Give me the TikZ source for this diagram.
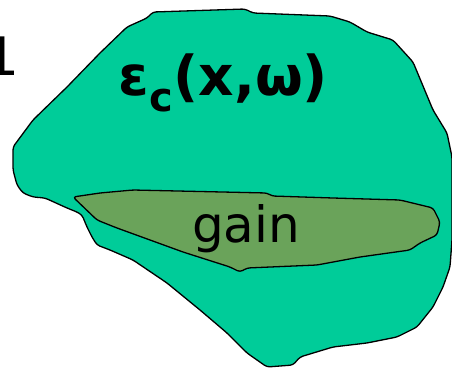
\documentclass[tikz,border=0pt]{standalone}
\usepackage{fontspec}
\setmainfont{DejaVu Sans}
\definecolor{outergreen}{HTML}{00CC99}
\definecolor{gaingreen}{HTML}{6AA35A}
\begin{document}
\begin{tikzpicture}[x=1pt,y=-1pt,
  blob/.style={draw=black,line width=1.3pt,line join=round,rounded corners=3pt}]
\useasboundingbox (0,0) rectangle (452,367);
\clip (0,0) rectangle (452,367);
% outer region
\draw[blob,fill=outergreen] (153,12) -- (245,9) -- (253,13) -- (330,16) -- (350,22) -- (367,32) -- (393,40) -- (413,62)
  -- (433,110) -- (447,133) -- (452,157) -- (452,240) -- (450,267) -- (443,287) -- (433,307) -- (417,327) -- (397,337)
  -- (367,343) -- (333,347) -- (300,357) -- (293,365) -- (267,367) -- (247,353) -- (227,333) -- (200,310)
  -- (167,283) -- (133,260) -- (110,250) -- (97,245) -- (92,237) -- (87,227) -- (82,215) -- (77,212) -- (67,208)
  -- (45,198) -- (33,197) -- (23,193) -- (17,185) -- (13,170) -- (13,147) -- (33,120) -- (67,87) -- (100,53)
  -- (127,27) -- (147,18) -- cycle;
% gain region
\draw[blob,fill=gaingreen] (73,197) -- (100,193) -- (133,190) -- (267,193) -- (272,196) -- (333,198) -- (400,200)
  -- (433,208) -- (440,222) -- (437,235) -- (420,243) -- (410,250) -- (360,257) -- (317,265) -- (247,268)
  -- (240,272) -- (230,267) -- (183,252) -- (117,228) -- (97,220) -- cycle;
\node[anchor=base west,inner sep=0pt,font=\bfseries\fontsize{55}{60}\selectfont] (eps) at (118,95) {ε\kern1pt\raisebox{-0.3em}{\fontsize{40}{44}\selectfont c}(x,ω)};
\node[anchor=base,inner sep=0pt,font=\fontsize{50}{60}\selectfont] (gain) at (246,242) {gain};
\begin{scope}
\clip (0,0) rectangle (13.5,367);
\node[anchor=base west,inner sep=0pt,font=\fontsize{53}{60}\selectfont] (L) at (-5.5,75) {L};
\end{scope}
\end{tikzpicture}
\end{document}
